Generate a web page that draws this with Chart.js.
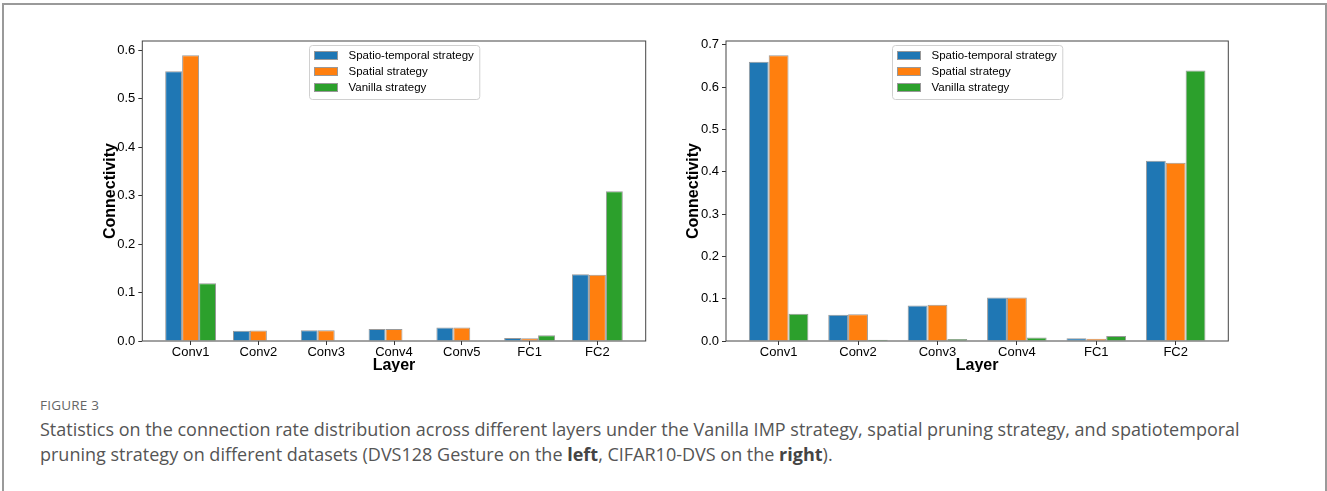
<!DOCTYPE html>
<html>
<head>
<meta charset="utf-8">
<title>Figure 3</title>
<script src="https://cdn.jsdelivr.net/npm/chart.js@4.4.0/dist/chart.umd.min.js"></script>
<style>
    body { margin: 0; width: 1327px; height: 491px; background: #fff; position: relative; overflow: hidden; font-family: "Open Sans", sans-serif; }
    .moldura { position: absolute; left: 2px; top: 3px; width: 1321px; height: 600px; border: 2px solid #9a9a9a; }
    .painel { position: absolute; top: 0; height: 372px; overflow: hidden; }
    #painelEsq { left: 0; width: 660px; }
    #painelDir { left: 660px; width: 667px; }
    .figura { position: absolute; left: 40px; top: 396px; font-size: 13.5px; color: #666; letter-spacing: 0.2px; }
    .legenda { position: absolute; left: 40px; top: 417px; font-size: 18px; line-height: 25px; color: #555; white-space: nowrap; }
    .legenda b { color: #444; }
</style>
</head>
<body>
<div class="moldura"></div>
<div class="painel" id="painelEsq"><canvas id="graficoEsq" width="660" height="380"></canvas></div>
<div class="painel" id="painelDir"><canvas id="graficoDir" width="667" height="380"></canvas></div>
<div class="figura">FIGURE 3</div>
<div class="legenda">Statistics on the connection rate distribution across different layers under the Vanilla IMP strategy, spatial pruning strategy, and spatiotemporal<br>pruning strategy on different datasets (DVS128 Gesture on the <b>left</b>, CIFAR10-DVS on the <b>right</b>).</div>

<script>
// DVS128 Gesture (left)
const camadasEsq = ["Conv1", "Conv2", "Conv3", "Conv4", "Conv5", "FC1", "FC2"];
const espacoTemporalEsq = [0.557, 0.021, 0.022, 0.025, 0.028, 0.006, 0.138];
const espacialEsq = [0.590, 0.0215, 0.022, 0.025, 0.028, 0.0055, 0.137];
const vanillaEsq = [0.119, 0.001, 0.001, 0.001, 0.001, 0.0117, 0.309];
const ticksYEsq = [0, 0.1, 0.2, 0.3, 0.4, 0.5, 0.6];

// CIFAR10-DVS (right)
const camadasDir = ["Conv1", "Conv2", "Conv3", "Conv4", "FC1", "FC2"];
const espacoTemporalDir = [0.660, 0.062, 0.084, 0.1025, 0.0063, 0.426];
const espacialDir = [0.675, 0.063, 0.0855, 0.1025, 0.0055, 0.421];
const vanillaDir = [0.0646, 0.003, 0.0047, 0.008, 0.0118, 0.639];
const ticksYDir = [0, 0.1, 0.2, 0.3, 0.4, 0.5, 0.6, 0.7];

const nomesSeries = ["Spatio-temporal strategy", "Spatial strategy", "Vanilla strategy"];
const coresSeries = ["#1f77b4", "#ff7f0e", "#2ca02c"];
const fonte = "'Liberation Sans', Arial, sans-serif";

// caixa do eixo + legenda no estilo matplotlib
const moldura = {
    id: "moldura",
    afterDatasetsDraw(chart) {
        const ctx = chart.ctx;
        const a = chart.chartArea;
        ctx.save();
        ctx.strokeStyle = "#444";
        ctx.lineWidth = 1;
        ctx.strokeRect(a.left, a.top, a.right - a.left, a.bottom - a.top);

        ctx.font = "11.5px " + fonte;
        let larguraTexto = 0;
        chart.data.datasets.forEach(d => {
            larguraTexto = Math.max(larguraTexto, ctx.measureText(d.label).width);
        });
        const w = 5 + 23 + 11 + larguraTexto + 6;
        const h = 54;
        const x = Math.round((a.left + a.right) / 2 - w / 2) + 0.5;
        const y = Math.round(a.top + 4) + 0.5;
        ctx.beginPath();
        ctx.roundRect(x, y, w, h, 3);
        ctx.fillStyle = "rgba(255,255,255,0.8)";
        ctx.fill();
        ctx.strokeStyle = "#d0d0d0";
        ctx.stroke();
        chart.data.datasets.forEach((d, k) => {
            const cy = y + 10 + k * 16;
            ctx.fillStyle = d.backgroundColor;
            ctx.fillRect(x + 5, cy - 4, 23, 8);
            ctx.strokeStyle = "#999";
            ctx.strokeRect(x + 5, cy - 4, 23, 8);
            ctx.fillStyle = "#000";
            ctx.textBaseline = "middle";
            ctx.fillText(d.label, x + 39, cy);
        });
        ctx.restore();
    }
};

function plotarGrafico(idCanvas, camadas, series, ticksY, espaco) {
    const todos = [].concat(...series);
    const maxY = Math.max(...todos) * 1.05;
    const n = camadas.length;
    const margemX = 0.375 + 0.05 * (n - 1 + 0.75);

    const datasets = series.map((valores, k) => ({
        label: nomesSeries[k],
        data: valores.map((v, i) => ({ x: i, y: v })),
        backgroundColor: coresSeries[k],
        borderColor: "#999",
        borderWidth: 1,
        categoryPercentage: 0.75,
        barPercentage: 1.0,
    }));

    const config = {
        type: "bar",
        data: { datasets },
        options: {
            responsive: false,
            animation: false,
            devicePixelRatio: 1,
            layout: { padding: { left: espaco.esq, top: 41, right: espaco.dir, bottom: 0 } },
            plugins: { legend: { display: false }, tooltip: { enabled: false } },
            scales: {
                x: {
                    type: "linear",
                    min: -margemX,
                    max: n - 1 + margemX,
                    offset: false,
                    grid: { offset: false, drawOnChartArea: false, drawTicks: true, tickLength: 4, color: "#333" },
                    border: { display: false },
                    afterBuildTicks: s => { s.ticks = camadas.map((_, i) => ({ value: i })); },
                    afterFit: s => { s.height = 39; },
                    ticks: {
                        autoSkip: false, maxRotation: 0, padding: 1, color: "#000",
                        font: { family: fonte, size: 13, lineHeight: 1 },
                        callback: v => camadas[v],
                    },
                    title: {
                        display: true, text: "Layer", color: "#000",
                        font: { family: fonte, size: 16, weight: "bold", lineHeight: 1.2 },
                        padding: { top: 0, bottom: 5 },
                    },
                },
                y: {
                    min: 0,
                    max: maxY,
                    grid: { drawOnChartArea: false, drawTicks: true, tickLength: 4, color: "#333" },
                    border: { display: false },
                    afterBuildTicks: s => { s.ticks = ticksY.map(v => ({ value: v })); },
                    afterFit: s => { s.width = espaco.eixoY; },
                    ticks: {
                        padding: 3, color: "#000",
                        font: { family: fonte, size: 13, lineHeight: 1 },
                        callback: v => v.toFixed(1),
                    },
                    title: {
                        display: true, text: "Connectivity", color: "#000",
                        font: { family: fonte, size: 16, weight: "bold", lineHeight: 1.2 },
                        padding: { top: 0, bottom: 0 },
                    },
                },
            },
        },
        plugins: [moldura],
    };
    return new Chart(document.getElementById(idCanvas).getContext("2d"), config);
}

plotarGrafico("graficoEsq", camadasEsq, [espacoTemporalEsq, espacialEsq, vanillaEsq], ticksYEsq,
    { esq: 101.4, eixoY: 40.9, dir: 14.3 });
plotarGrafico("graficoDir", camadasDir, [espacoTemporalDir, espacialDir, vanillaDir], ticksYDir,
    { esq: 24.4, eixoY: 41.6, dir: 98.7 });
</script>
</body>
</html>
